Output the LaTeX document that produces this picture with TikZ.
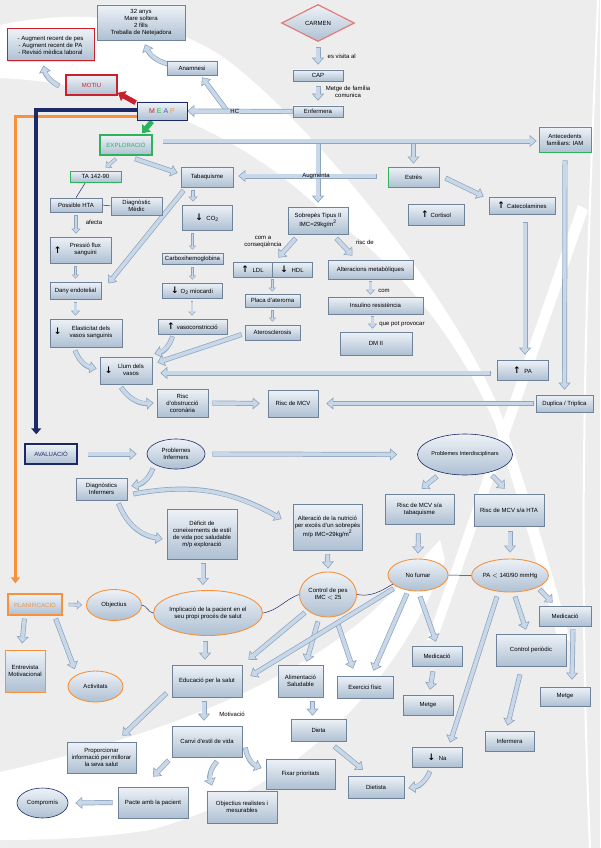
\documentclass[tikz,border=0pt]{standalone}
\usepackage{fontspec}
\setmainfont{Liberation Sans}
\newfontfamily\arrowfont{DejaVu Sans}
\usetikzlibrary{arrows.meta,shapes.geometric,shadows,calc,backgrounds}
\definecolor{bgc}{HTML}{EDEDED}
\definecolor{boxtop}{HTML}{EEF2F7}
\definecolor{boxbot}{HTML}{AEC0D3}
\definecolor{boxbd}{HTML}{6E8299}
\definecolor{arfill}{HTML}{C9D8E8}
\definecolor{arbd}{HTML}{8DA5BE}
\definecolor{grn}{HTML}{2DB45A}
\definecolor{redc}{HTML}{C8202C}
\definecolor{navyc}{HTML}{1B2A66}
\definecolor{orng}{HTML}{F7923A}
\definecolor{pinkc}{HTML}{E27C7C}
\definecolor{bluec}{HTML}{3A5FB0}
\newcommand\UA{{\arrowfont\bfseries\fontsize{9}{9}\selectfont ↑}\hspace{2pt}}
\newcommand\DA{{\arrowfont\bfseries\fontsize{9}{9}\selectfont ↓}\hspace{2pt}}
\newcommand\UAo{{\arrowfont\bfseries\fontsize{9}{9}\selectfont ↑}}
\newcommand\DAo{{\arrowfont\bfseries\fontsize{9}{9}\selectfont ↓}}
\newcommand\twol[1]{\begin{tabular}{@{}c@{}}#1\end{tabular}}
\tikzset{
 box/.style={draw=boxbd, line width=0.6pt, top color=boxtop, bottom color=boxbot, align=center, inner sep=1pt, drop shadow={shadow xshift=0.8pt, shadow yshift=-0.8pt, opacity=0.25}},
 oval/.style={ellipse, draw=navyc, line width=0.6pt, top color=boxtop, bottom color=boxbot, align=center, inner sep=0pt},
 ovalo/.style={oval, draw=orng, line width=0.9pt},
 ba/.style={draw=arbd, line width=5pt, -{Triangle[length=7pt,width=12pt,line width=0.6pt,fill=arfill]}, postaction={draw=arfill, line width=3.6pt, -, shorten >=4pt, shorten <=0.6pt}},
 bas/.style={draw=arbd, line width=3.6pt, -{Triangle[length=5pt,width=9pt,line width=0.5pt,fill=arfill]}, postaction={draw=arfill, line width=2.4pt, -, shorten >=3pt, shorten <=0.5pt}},
 bat/.style={draw=arbd, line width=2.6pt, -{Triangle[length=4pt,width=7pt,line width=0.4pt,fill=arfill]}, postaction={draw=arfill, line width=1.6pt, -, shorten >=2.5pt, shorten <=0.4pt}},
 redarr/.style={draw=redc, line width=5pt, -{Triangle[length=7pt,width=11pt]}},
 grnarr/.style={draw=grn, line width=5pt, -{Triangle[length=7pt,width=11pt]}},
 navyl/.style={draw=navyc, line width=4pt, -{Triangle[length=6pt,width=10pt]}},
 orngl/.style={draw=orng, line width=3pt, -{Triangle[length=6pt,width=9pt]}},
 lbl/.style={align=center, inner sep=0.5pt},
 thinl/.style={draw=navyc, line width=0.5pt},
 arr/.style={inner sep=0pt},
}
\begin{document}
\begin{tikzpicture}[x=1pt,y=-1pt,font=\fontsize{6}{7}\selectfont]
\useasboundingbox (0,0) rectangle (600,848);
% ---------- nodes ----------
\node[box, minimum width=88pt, minimum height=35pt] (info) at (141,22.5) {32 anys\\Mare soltera\\2 fills\\Treballa de Netejadora};
\node[box, draw=redc, line width=1pt, minimum width=87pt, minimum height=32pt] (motiv) at (50.5,45) {- Augment recent de pes\\- Augment recent de PA\\- Revisió mèdica laboral};
\node[box, minimum width=50pt, minimum height=14pt] (anam) at (192,68) {Anamnesi};
\node[box, draw=redc, line width=1.5pt, minimum width=51pt, minimum height=20pt, text=redc] (motiu) at (91.5,85) {MOTIU};
\node[box, draw=navyc, line width=0.7pt, minimum width=50pt, minimum height=18pt, font=\fontsize{7}{8}\selectfont] (meap) at (162,111) {\textcolor{redc}{M}\ \textcolor{grn}{E}\ \textcolor{bluec}{A}\ \textcolor{orng}{P}};
\node[diamond, draw=pinkc, line width=1.2pt, top color=boxtop, bottom color=boxbot, minimum width=73pt, minimum height=37pt, inner sep=0pt, aspect=2] (carmen) at (318,23) {CARMEN};
\node[box, minimum width=50pt, minimum height=11pt] (cap) at (318,75.5) {CAP};
\node[box, minimum width=50pt, minimum height=11pt] (enf) at (318,111.5) {Enfermera};
\node[box, draw=grn, line width=1.5pt, text=grn, minimum width=52pt, minimum height=20pt] (expl) at (126,145) {EXPLORACIÓ};
\node[box, draw=grn, line width=0.8pt, minimum width=52pt, minimum height=25pt] (ante) at (565,139.5) {Antecedents\\familiars: IAM};
\node[box, draw=grn, line width=0.8pt, minimum width=51pt, minimum height=11pt] (ta) at (95.5,176.5) {TA 142-90};
\node[box, minimum width=52pt, minimum height=14pt] (phta) at (76,205) {Possible HTA};
\node[box, minimum width=51pt, minimum height=18pt] (dmed) at (136.5,206) {Diagnòstic\\Mèdic};
\node[box, draw=grn, line width=0.8pt, minimum width=52pt, minimum height=20pt] (taba) at (207,177) {Tabaquisme};
\node[box, draw=grn, line width=0.8pt, minimum width=51pt, minimum height=20pt] (estres) at (413.5,177) {Estrès};
\node[box, minimum width=66pt, minimum height=17pt] (cate) at (522,205.5) {\UA Catecolamines};
\node[box, minimum width=56pt, minimum height=21pt] (cort) at (436,214.5) {\UA Cortisol};
\node[box, minimum width=60pt, minimum height=27pt] (sobre) at (318,220.5) {Sobrepès Tipus II\\IMC=29kg/m\textsuperscript{2}};
\node[box, minimum width=39pt, minimum height=15pt] (ldl) at (252.5,269.5) {\UA\ LDL};
\node[box, minimum width=40pt, minimum height=15pt] (hdl) at (292,269.5) {\DA\ HDL};
\node[box, minimum width=55pt, minimum height=13pt] (placa) at (272.5,300.5) {Placa d'ateroma};
\node[box, minimum width=55pt, minimum height=15pt] (ater) at (272.5,332.5) {Aterosclerosis};
\node[box, minimum width=85pt, minimum height=19pt] (alter) at (370.5,269.5) {Alteracions metabòliques};
\node[box, minimum width=95pt, minimum height=17pt] (insul) at (375.5,305.5) {Insulino resistència};
\node[box, minimum width=72pt, minimum height=23pt] (dm) at (376,343.5) {DM II};
\node[box, minimum width=61pt, minimum height=26pt] (pressio) at (80.5,250) {\hspace{10pt}\twol{Pressió flux\\sanguini}};
\node[arr] (pressioA) at ($(pressio.west)+(8,0)$) {\UAo};
\node[box, minimum width=51pt, minimum height=17pt] (dany) at (75.5,290.5) {Dany endotelial};
\node[box, minimum width=72pt, minimum height=28pt] (elast) at (86,333) {\hspace{10pt}\twol{Elasticitat dels\\vasos sanguinis}};
\node[arr] (elastA) at ($(elast.west)+(8,-2)$) {\DAo};
\node[box, minimum width=52pt, minimum height=27pt] (llum) at (126,370.5) {\hspace{10pt}\twol{Llum dels\\vasos}};
\node[arr] (llumA) at ($(llum.west)+(9,0)$) {\DAo};
\node[box, minimum width=51pt, minimum height=28pt] (riscob) at (182.5,403) {Risc\\d'obstrucció\\coronària};
\node[box, minimum width=50pt, minimum height=27pt] (riscmcv) at (293,403.5) {Risc de MCV};
\node[box, minimum width=50pt, minimum height=25pt] (co2) at (207,217.5) {\DA\ CO\textsubscript{2}};
\node[box, minimum width=61pt, minimum height=11pt] (carbo) at (192.5,258.5) {Carboxihemoglobina};
\node[box, minimum width=60pt, minimum height=15pt] (o2) at (192,290.5) {\DA O\textsubscript{2} miocardi};
\node[box, minimum width=69pt, minimum height=15pt] (vaso) at (192.5,326.5) {\UA vasoconstricció};
\node[box, minimum width=51pt, minimum height=20pt] (pa) at (522.5,370) {\UA\ PA};
\node[box, minimum width=57pt, minimum height=17pt] (dupl) at (564.5,403.5) {Duplica / Triplica};
\node[box, draw=navyc, line width=1.5pt, text=navyc, minimum width=52pt, minimum height=20pt] (aval) at (51,454) {AVALUACIÓ};
\node[oval, minimum width=58pt, minimum height=30pt] (pinf) at (176,454) {Problemes\\Infermers};
\node[oval, minimum width=84pt, minimum height=41pt, font=\fontsize{5.6}{6.5}\selectfont] (pint) at (465,454.5) {Problemes Interdisciplinars};
\node[box, minimum width=51pt, minimum height=22pt] (dinf) at (101.5,489) {Diagnòstics\\Infermers};
\node[box, minimum width=70pt, minimum height=50pt] (defic) at (202,534) {Dèficit de\\coneixements de estil\\de vida poc saludable\\m/p exploració};
\node[box, minimum width=69pt, minimum height=46pt] (alter2) at (327.5,527) {Alteració de la nutrició\\per excés d'un sobrepès\\m/p IMC=29kg/m\textsuperscript{2}};
\node[box, minimum width=69pt, minimum height=30pt] (rtab) at (419.5,509) {Risc de MCV s/a\\tabaquisme};
\node[box, minimum width=70pt, minimum height=32pt] (rhta) at (509,510) {Risc de MCV s/a HTA};
\node[box, draw=orng, line width=1.2pt, text=orng, minimum width=54pt, minimum height=21pt] (plan) at (35,604.5) {PLANIFICACIÓ};
\node[ovalo, minimum width=55pt, minimum height=31pt] (obj) at (114,605) {Objectius};
\node[ovalo, minimum width=93pt, minimum height=45pt] (impl) at (208,613) {Implicació de la pacient en el\\seu propi procés de salut};
\node[ovalo, minimum width=57pt, minimum height=45pt] (cpes) at (328,594.5) {Control de pes\\IMC $<$ 25};
\node[ovalo, minimum width=60pt, minimum height=32pt] (nofum) at (418,575) {No fumar};
\node[ovalo, minimum width=67pt, minimum height=33pt] (pael) at (510,575.5) {PA $<$ 140/90 mmHg};
\node[box, minimum width=52pt, minimum height=20pt] (medr) at (565,616) {Medicació};
\node[box, minimum width=70pt, minimum height=32pt] (cper) at (531,650) {Control periòdic};
\node[box, minimum width=50pt, minimum height=20pt] (na) at (437,757) {\DA\ Na};
\node[box, minimum width=50pt, minimum height=19pt] (metr) at (565,696.5) {Metge};
\node[box, minimum width=49pt, minimum height=20pt] (infa) at (509.5,741) {Infermera};
\node[box, minimum width=50pt, minimum height=20pt] (medm) at (437,656) {Medicació};
\node[box, minimum width=50pt, minimum height=20pt] (metm) at (428,705) {Metge};
\node[box, minimum width=70pt, minimum height=32pt] (edu) at (207,681) {Educació per la salut};
\node[box, minimum width=45pt, minimum height=32pt] (alim) at (300.5,681) {Alimentació\\Saludable};
\node[box, minimum width=56pt, minimum height=22pt] (exer) at (365,687) {Exercici físic};
\node[box, minimum width=55pt, minimum height=22pt] (dieta) at (318.5,730) {Dieta};
\node[box, minimum width=56pt, minimum height=22pt] (dietista) at (376,787) {Dietista};
\node[box, minimum width=70pt, minimum height=31pt] (canvi) at (207,741.5) {Canvi d'estil de vida};
\node[box, minimum width=69pt, minimum height=30pt] (fixar) at (300.5,774) {Fixar prioritats};
\node[box, minimum width=70pt, minimum height=32pt] (objr) at (242,807) {Objectius realistes i\\mesurables};
\node[box, minimum width=70pt, minimum height=31pt] (pacte) at (153,802.5) {Pacte amb la pacient};
\node[oval, minimum width=51pt, minimum height=30pt] (comp) at (42.5,803) {Compromís};
\node[box, minimum width=69pt, minimum height=31pt] (prop) at (101.5,757.5) {Proporcionar\\informació per millorar\\la seva salut};
\node[box, draw=orng, line width=1pt, minimum width=40pt, minimum height=42pt] (entr) at (25,671) {Entrevista\\Motivacional};
\node[ovalo, minimum width=55pt, minimum height=31pt] (activ) at (95.5,686.5) {Activitats};
% labels
\node[lbl, anchor=west] (lvis) at (327,56) {es visita al};
\node[lbl] (lmet) at (348,92) {Metge de família\\comunica};
\node[lbl] (lhc) at ($(enf.west)!0.55!(meap.east)$) {HC};
\node[lbl] (laug) at (316,176) {Augmenta};
\node[lbl] (lafe) at (94,222) {afecta};
\node[lbl] (lcom) at (263,242) {com a\\conseqüència};
\node[lbl] (lris) at (365,242) {risc de};
\node[lbl] (lcm) at (384,291) {com};
\node[lbl] (lque) at (402,324) {que pot provocar};
\node[lbl] (lmot) at (232,714) {Motivació};
% ---------- background and connectors ----------
\begin{pgfonlayer}{background}
\fill[bgc] (0,0) rectangle (600,848);
\fill[white] (0,25) .. controls (60,12) and (150,10) .. (220,55) .. controls (300,110) and (460,300) .. (505,424) .. controls (530,500) and (555,580) .. (570,640) -- (558,640) .. controls (540,570) and (515,490) .. (495,424) .. controls (450,320) and (380,250) .. (323,212) .. controls (260,150) and (150,85) .. (0,78) -- cycle;
\fill[white] (578,205) -- (588,210) -- (437,640) -- (427,640) -- cycle;
\fill[white] (0,772) .. controls (120,745) and (260,700) .. (350,630) .. controls (390,600) and (420,560) .. (440,540) -- (445,560) .. controls (400,680) and (300,790) .. (150,830) .. controls (100,838) and (50,840) .. (0,840) -- cycle;
\draw[white, line width=2pt] (598,0) .. controls (590,200) and (575,500) .. (590,848);
% top
\draw[ba] ($(anam.west)+(1,-4)$) to[bend left=25] ($(info.south)+(4,4)$);
\draw[ba] ($(motiu.west)+(-6,1)$) to[bend left=25] ($(motiv.south)+(-7,4)$);
\draw[redarr] ($(meap.north west)+(-1,1)$) -- ($(motiu.south east)+(0,-3)$);
\draw[grnarr] ($(meap.south)+(-10,1)$) -- ($(expl.north)+(16,-1)$);
\coordinate (hcb) at ($(enf.west)!0.62!(meap.east)$);
\draw[ba] (hcb) -- ($(anam.south)+(10,2)$);
\draw[ba] (enf.west) -- (meap.east);
\draw[ba] ($(carmen.south)+(0,5)$) -- ($(cap.north)+(0,-5)$);
\draw[ba] ($(cap.south)+(0,5)$) -- ($(enf.north)+(0,-5)$);
% exploration bar
\coordinate (bar0) at ($(expl.east)+(10,-4)$);
\coordinate (bj1) at (bar0 -| sobre.north);
\coordinate (bj2) at (bar0 -| estres.north);
\draw[ba] (bj1) -- ($(sobre.north)+(0,-4)$);
\draw[ba] (bj2) -- ($(estres.north)+(0,-3)$);
\draw[ba] (bar0) -- ($(bar0 -| ante.west)+(-2,0)$);
\draw[ba] ($(estres.west)+(-11,-1)$) -- ($(taba.east)+(5,-1)$);
\draw[ba] ($(ante.south)+(0,8)$) -- ($(dupl.north)+(0,-5)$);
\draw[bas] ($(expl.south)+(-10,3)$) -- ($(ta.north)+(10,-3)$);
\draw[ba] ($(expl.south)+(9,3)$) -- ($(taba.west)+(-3,-4)$);
\draw[thinl] ($(ta.south)+(-10,0)$) -- (phta.north);
\draw[thinl] (phta.east) -- (dmed.west);
% left column
\draw[bas] ($(phta.south)+(0,3)$) -- ($(phta.south |- pressio.north)+(0,-3)$);
\draw[bat] ($(pressio.south -| dany.north)+(0,3)$) -- ($(dany.north)+(0,-3)$);
\draw[bas] ($(dany.south)+(0,3)$) -- ($(dany.south |- elast.north)+(0,-3)$);
\draw[ba] ($(elast.south)+(-11,3)$) to[bend right=30] ($(llum.west)+(-3,-2)$);
\draw[ba] ($(llum.south)+(-5,3)$) to[bend right=30] ($(riscob.west)+(-3,0)$);
\draw[ba] ($(riscob.east)+(4,0)$) -- ($(riscmcv.west)+(-8,0)$);
% tabaquisme column
\draw[bas] ($(taba.south)+(-14,3)$) -- ($(co2.north)+(-14,-3)$);
\draw[bat] ($(co2.south -| carbo.north)+(0,3)$) -- ($(carbo.north)+(0,-3)$);
\draw[bat] ($(carbo.south)+(0,3)$) -- ($(carbo.south |- o2.north)+(0,-3)$);
\draw[bat] ($(o2.south)+(0,3)$) -- ($(o2.south |- vaso.north)+(0,-3)$);
\draw[ba] ($(vaso.south)+(-20,2)$) to[bend left=30] ($(llum.north east)+(2,-3)$);
\draw[ba] ($(taba.south west)+(3,3)$) -- ($(dany.east)+(7,-7)$);
% sobrepes
\draw[ba] ($(sobre.south west)+(8,4)$) -- ($(ldl.north east)+(6,-4)$);
\draw[ba] ($(sobre.south east)+(-12,4)$) -- ($(alter.north)+(-18,-4)$);
\draw[bat] ($(ldl.south east)+(0,2)$) -- ($(ldl.south east |- placa.north)+(0,-2)$);
\draw[bat] ($(placa.south)+(0,3)$) -- ($(ater.north)+(0,-3)$);
\draw[ba] ($(ater.west)+(-3,2)$) -- ($(llum.east)+(5,-8)$);
\draw[bas] ($(alter.south)+(0,2)$) -- ($(alter.south |- insul.north)+(0,-2)$);
\draw[bas] ($(insul.south)+(-3,2)$) -- ($(insul.south |- dm.north)+(-3,-3)$);
\draw[ba] ($(cate.south)+(3,8)$) -- ($(pa.north)+(2.5,-5)$);
\draw[ba] ($(estres.east)+(6,1)$) -- ($(cate.west)+(-5,-9)$);
\draw[ba] ($(pa.west)+(-6,3)$) -- ($(llum.east)+(8,2.5)$);
\draw[ba] ($(dupl.west)+(-2,0)$) -- ($(riscmcv.east)+(8,0)$);
% process lines
\draw[orngl] ($(meap.west)+(0,6)$) -| ($(plan.north west)+(8,-10)$);
\draw[navyl] ($(meap.west)+(0,-1)$) -| ($(aval.north west)+(12,-9)$);
% evaluation
\draw[ba] ($(aval.east)+(10,0)$) -- ($(pinf.west)+(-10,0)$);
\draw[ba] ($(pinf.east)+(7,0)$) -- ($(pint.west)+(-20,0)$);
\draw[ba] ($(pinf.south)+(-23,-1)$) to[bend left=30] ($(dinf.east)+(4,-3)$);
\draw[ba] ($(dinf.east)+(6,5)$) to[bend left=20] ($(alter2.west)+(-11,-8)$);
\draw[ba] ($(dinf.south)+(17,3)$) to[bend right=30] ($(defic.west)+(-4,5)$);
\draw[ba] ($(pint.south)+(-28,1)$) -- ($(rtab.north)+(2,-5)$);
\draw[ba] ($(pint.south)+(27,0)$) -- ($(rhta.north)+(-4,-5)$);
\draw[ba] ($(defic.south)+(1,4)$) -- ($(impl.north)+(-5,-5)$);
\draw[ba] ($(alter2.south)+(0,4)$) -- ($(cpes.north)+(0,-3)$);
\draw[ba] ($(rtab.south)+(-1,9)$) -- ($(nofum.north)+(0,-5)$);
\draw[ba] ($(rhta.south)+(1,5)$) -- ($(pael.north)+(0,-6)$);
% planning
\draw[thinl] (obj.east) to[out=-10,in=170] (impl.west);
\draw[thinl] (impl.east) to[out=10,in=200] (cpes.west);
\draw[thinl] (cpes.east) to[out=-10,in=210] (nofum.200);
\draw[thinl] (nofum.east) -- (pael.west);
\draw[bas] ($(plan.east)+(6,0)$) -- ($(obj.west)+(-4,0)$);
\draw[ba] ($(impl.south)+(-3,5)$) -- ($(edu.north)+(-2,-5)$);
\draw[ba] ($(cpes.south)+(-23,-5)$) -- ($(edu.north east)+(6,-5)$);
\draw[ba] ($(cpes.south)+(-10,4)$) -- ($(alim.north)+(6,-3)$);
\draw[ba] ($(cpes.south)+(9,4)$) -- ($(exer.north)+(-12,-7)$);
\draw[ba] ($(nofum.south west)+(-3,2)$) -- ($(edu.east)+(8,-5)$);
\draw[ba] ($(nofum.south)+(-11,2)$) -- ($(exer.north east)+(-20,-5)$);
\draw[ba] ($(nofum.south)+(2,5)$) -- ($(medm.north)+(-1,-4)$);
\draw[ba] ($(pael.south east)+(2,2)$) -- ($(medr.north west)+(14,-3)$);
\draw[ba] ($(pael.south)+(5,4)$) -- ($(cper.north)+(-5,-4)$);
\draw[ba] ($(pael.south)+(-13,4)$) -- ($(na.north)+(13,-4)$);
\draw[ba] ($(medr.south)+(8,3)$) -- ($(metr.north)+(7,-7)$);
\draw[ba] ($(cper.south)+(-11,8)$) -- ($(infa.north)+(-2,-5)$);
\draw[ba] ($(medm.south)+(-4,5)$) -- ($(metm.north)+(2,-5)$);
\draw[ba] ($(na.south)+(-7,4)$) to[bend left=30] ($(dietista.east)+(4,1)$);
\draw[ba] ($(alim.south)+(12,4)$) -- ($(dieta.north)+(-6,-3)$);
\draw[ba] ($(dieta.south east)+(-12,5)$) -- ($(dietista.north)+(-13,-6)$);
\draw[ba] ($(edu.south)+(-3,4)$) -- ($(canvi.north)+(-3,-5)$);
\draw[ba] ($(canvi.east)+(3,6)$) to[bend right=30] ($(fixar.west)+(-4,-6)$);
\draw[ba] ($(canvi.south)+(10,4)$) to[bend right=30] ($(objr.north)+(-30,-5)$);
\draw[ba] ($(canvi.south west)+(-3,3)$) -- ($(pacte.north)+(0,-10)$);
\draw[ba] ($(pacte.west)+(-5,0)$) -- ($(comp.east)+(7,0)$);
\draw[ba] ($(edu.west)+(-5,12)$) -- ($(prop.north east)+(-14,-6)$);
\draw[ba] ($(plan.south west)+(17,3)$) -- ($(entr.north)+(-3,-6)$);
\draw[ba] ($(plan.south east)+(-7,3)$) -- ($(activ.north west)+(-1,-6)$);
\end{pgfonlayer}
\end{tikzpicture}
\end{document}
